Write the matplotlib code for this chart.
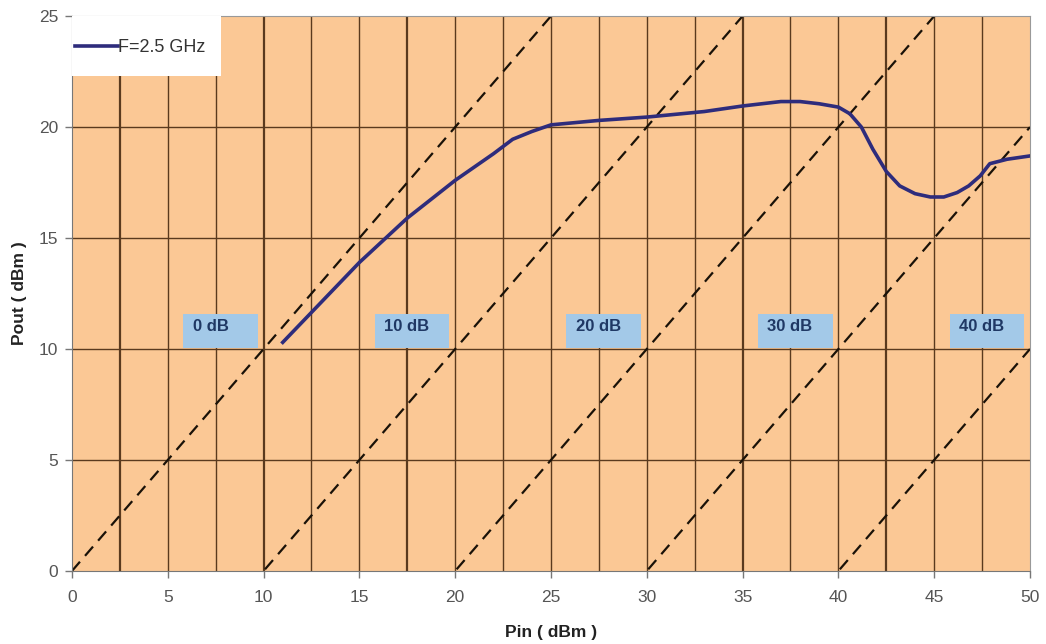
import numpy as np
import matplotlib.pyplot as plt
from matplotlib.patches import Rectangle

plt.rcParams['font.family'] = ['Liberation Sans', 'DejaVu Sans']

# measured curve, F = 2.5 GHz
pin = [11, 13, 15, 17.5, 20, 22, 23, 24, 25, 27.5, 30, 33, 35, 37, 38, 39, 40, 40.6, 41.2, 41.8, 42.5,
       43.2, 44, 44.8, 45.5, 46.2, 46.8, 47.4, 47.9, 48.8, 50]
pout = [10.3, 12.1, 13.9, 15.9, 17.6, 18.8, 19.45, 19.8, 20.1, 20.3, 20.45, 20.7, 20.95, 21.15, 21.15, 21.05, 20.9,
        20.6, 20.0, 19.0, 18.0, 17.35, 17.0, 16.85, 16.85, 17.05, 17.35, 17.8, 18.35, 18.55, 18.7]

# constant gain lines y = x - gain
gains = [0, 10, 20, 30, 40]
gain_labels = ['0 dB', '10 dB', '20 dB', '30 dB', '40 dB']
label_x = [5.8, 15.8, 25.8, 35.8, 45.8]

xticks = [0, 5, 10, 15, 20, 25, 30, 35, 40, 45, 50]
yticks = [0, 5, 10, 15, 20, 25]

fig = plt.figure(figsize=(10.46, 6.44), dpi=100)
ax = fig.add_axes([0.0688, 0.1134, 0.9159, 0.8616])
ax.set_facecolor('#FBC895')

gridc = '#5A3A1E'
for xv in np.arange(2.5, 50, 2.5):
    lw = 1.6 if xv in (2.5, 10, 17.5, 35, 42.5) else 1.0
    ax.axvline(xv, color=gridc, lw=lw, zorder=1)
for yv in [5, 10, 15, 20]:
    ax.axhline(yv, color=gridc, lw=1.0, zorder=1)

xx = np.array([0, 50])
for g in gains:
    ax.plot(xx, xx - g, color='#1A1208', lw=1.6, ls=(0, (5.5, 3.5)), zorder=2)

for lx, lab in zip(label_x, gain_labels):
    ax.add_patch(Rectangle((lx, 10.05), 3.9, 1.55, facecolor='#A3C9E8', edgecolor='none', zorder=3))
    ax.text(lx + 0.5, 11.0, lab, fontsize=12, fontweight='bold', color='#1F3864', va='center', ha='left', zorder=4)

ax.plot(pin, pout, color='#2E2C7C', lw=2.6, zorder=5, solid_joinstyle='round')

# legend box
ax.add_patch(Rectangle((0, 22.3), 7.8, 2.7, facecolor='white', edgecolor='none', zorder=6))
ax.plot([0.15, 2.4], [23.65, 23.65], color='#2E2C7C', lw=2.6, zorder=7)
ax.text(2.4, 23.6, 'F=2.5 GHz', fontsize=13, color='#333333', va='center', ha='left', zorder=7)

ax.set_xlim(0, 50)
ax.set_ylim(0, 25)
ax.set_xticks(xticks)
ax.set_yticks(yticks)
ax.tick_params(colors='#555555', labelsize=12.5, length=5, width=1, color='#777777')
ax.tick_params(axis='x', pad=9)
ax.tick_params(axis='y', pad=5)
for s in ax.spines.values():
    s.set_color('#999999')
ax.spines['left'].set_color('#777777')
ax.spines['bottom'].set_color('#777777')

ax.set_xlabel('Pin ( dBm )', fontsize=12.5, fontweight='bold', color='#222222', labelpad=14)
ax.set_ylabel('Pout ( dBm )', fontsize=12.5, fontweight='bold', color='#222222', labelpad=8)

fig.savefig('out.png', dpi=100)
